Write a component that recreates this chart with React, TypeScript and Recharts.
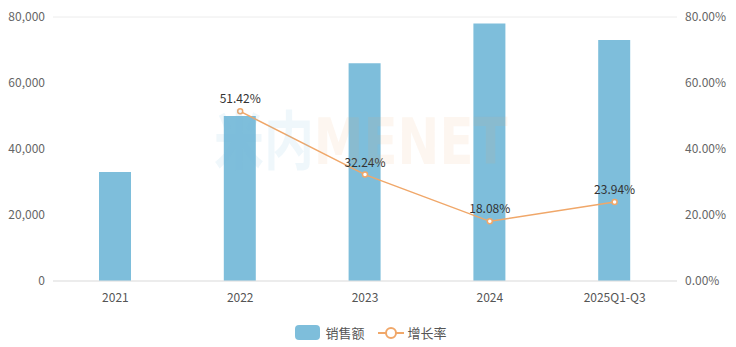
import React from "react";
import {
  Bar,
  CartesianGrid,
  ComposedChart,
  LabelList,
  Legend,
  Line,
  XAxis,
  YAxis,
} from "recharts";

const categories = ["2021", "2022", "2023", "2024", "2025Q1-Q3"];
const sales = [33000, 50000, 66000, 78000, 73000];
const growth: (number | null)[] = [null, 51.42, 32.24, 18.08, 23.94];

const leftTicks = [0, 20000, 40000, 60000, 80000];
const rightTicks = [0, 20, 40, 60, 80];

const BAR_COLOR = "#7ebedb";
const LINE_COLOR = "#f0a769";
const FONT = '"Noto Sans CJK SC", "Noto Sans", sans-serif';

const data = categories.map((name, i) => ({
  name,
  sales: sales[i],
  growth: growth[i],
}));

function LegendContent() {
  return (
    <div
      style={{
        display: "flex",
        justifyContent: "center",
        alignItems: "center",
        fontFamily: FONT,
        fontSize: 13,
        color: "#555",
        paddingLeft: 6,
        paddingTop: 12,
      }}
    >
      <span
        style={{
          display: "inline-block",
          width: 25,
          height: 15,
          borderRadius: 4,
          background: BAR_COLOR,
          marginRight: 5,
        }}
      />
      <span style={{ marginRight: 13 }}>销售额</span>
      <svg width={26} height={14} style={{ marginRight: 4 }}>
        <line x1={0} y1={7} x2={26} y2={7} stroke={LINE_COLOR} strokeWidth={2} />
        <circle cx={13} cy={7} r={5} fill="#fff" stroke={LINE_COLOR} strokeWidth={2} />
      </svg>
      <span>增长率</span>
    </div>
  );
}

export default function App() {
  return (
    <div style={{ position: "absolute", left: 0, top: 0, width: 736, height: 347 }}>
      <ComposedChart
        width={736}
        height={347}
        data={data}
        margin={{ top: 17, right: 0, left: 0, bottom: 0 }}
        style={{ fontFamily: FONT }}
      >
        <CartesianGrid vertical={false} stroke="#ececec" />
        <XAxis
          dataKey="name"
          tickLine={false}
          axisLine={{ stroke: "#e3e3e3" }}
          tick={{ fill: "#555", fontSize: 12 }}
          tickMargin={6}
          height={30}
        />
        <YAxis
          yAxisId="left"
          width={53}
          domain={[0, 80000]}
          ticks={leftTicks}
          tickLine={false}
          axisLine={false}
          tick={{ fill: "#666", fontSize: 12 }}
          tickFormatter={(v: number) => v.toLocaleString("en-US")}
        />
        <YAxis
          yAxisId="right"
          orientation="right"
          width={59}
          domain={[0, 80]}
          ticks={rightTicks}
          tickLine={false}
          axisLine={false}
          tick={{ fill: "#666", fontSize: 12 }}
          tickFormatter={(v: number) => `${v.toFixed(2)}%`}
        />
        <Legend verticalAlign="bottom" height={36} content={<LegendContent />} />
        <Bar
          yAxisId="left"
          dataKey="sales"
          fill={BAR_COLOR}
          barSize={32}
          isAnimationActive={false}
        />
        <Line
          yAxisId="right"
          dataKey="growth"
          stroke={LINE_COLOR}
          strokeWidth={1.5}
          dot={{ r: 2.5, fill: "#fff", stroke: LINE_COLOR, strokeWidth: 1.5 }}
          isAnimationActive={false}
        >
          <LabelList
            dataKey="growth"
            position="top"
            offset={8}
            fill="#333"
            fontSize={12}
            formatter={(v: any) => (v == null ? "" : `${Number(v).toFixed(2)}%`)}
          />
        </Line>
      </ComposedChart>
      <div
        style={{
          position: "absolute",
          left: 214,
          top: 104,
          fontFamily: '"DejaVu Sans", sans-serif',
          fontWeight: 700,
          fontSize: 64,
          pointerEvents: "none",
          whiteSpace: "nowrap",
          lineHeight: 1,
          transform: "scaleX(0.78)",
          transformOrigin: "left top",
        }}
      >
        <span style={{ color: "rgba(126,190,219,0.12)", fontFamily: FONT }}>米内</span>
        <span style={{ color: "rgba(240,167,105,0.1)" }}>MENET</span>
      </div>
    </div>
  );
}
